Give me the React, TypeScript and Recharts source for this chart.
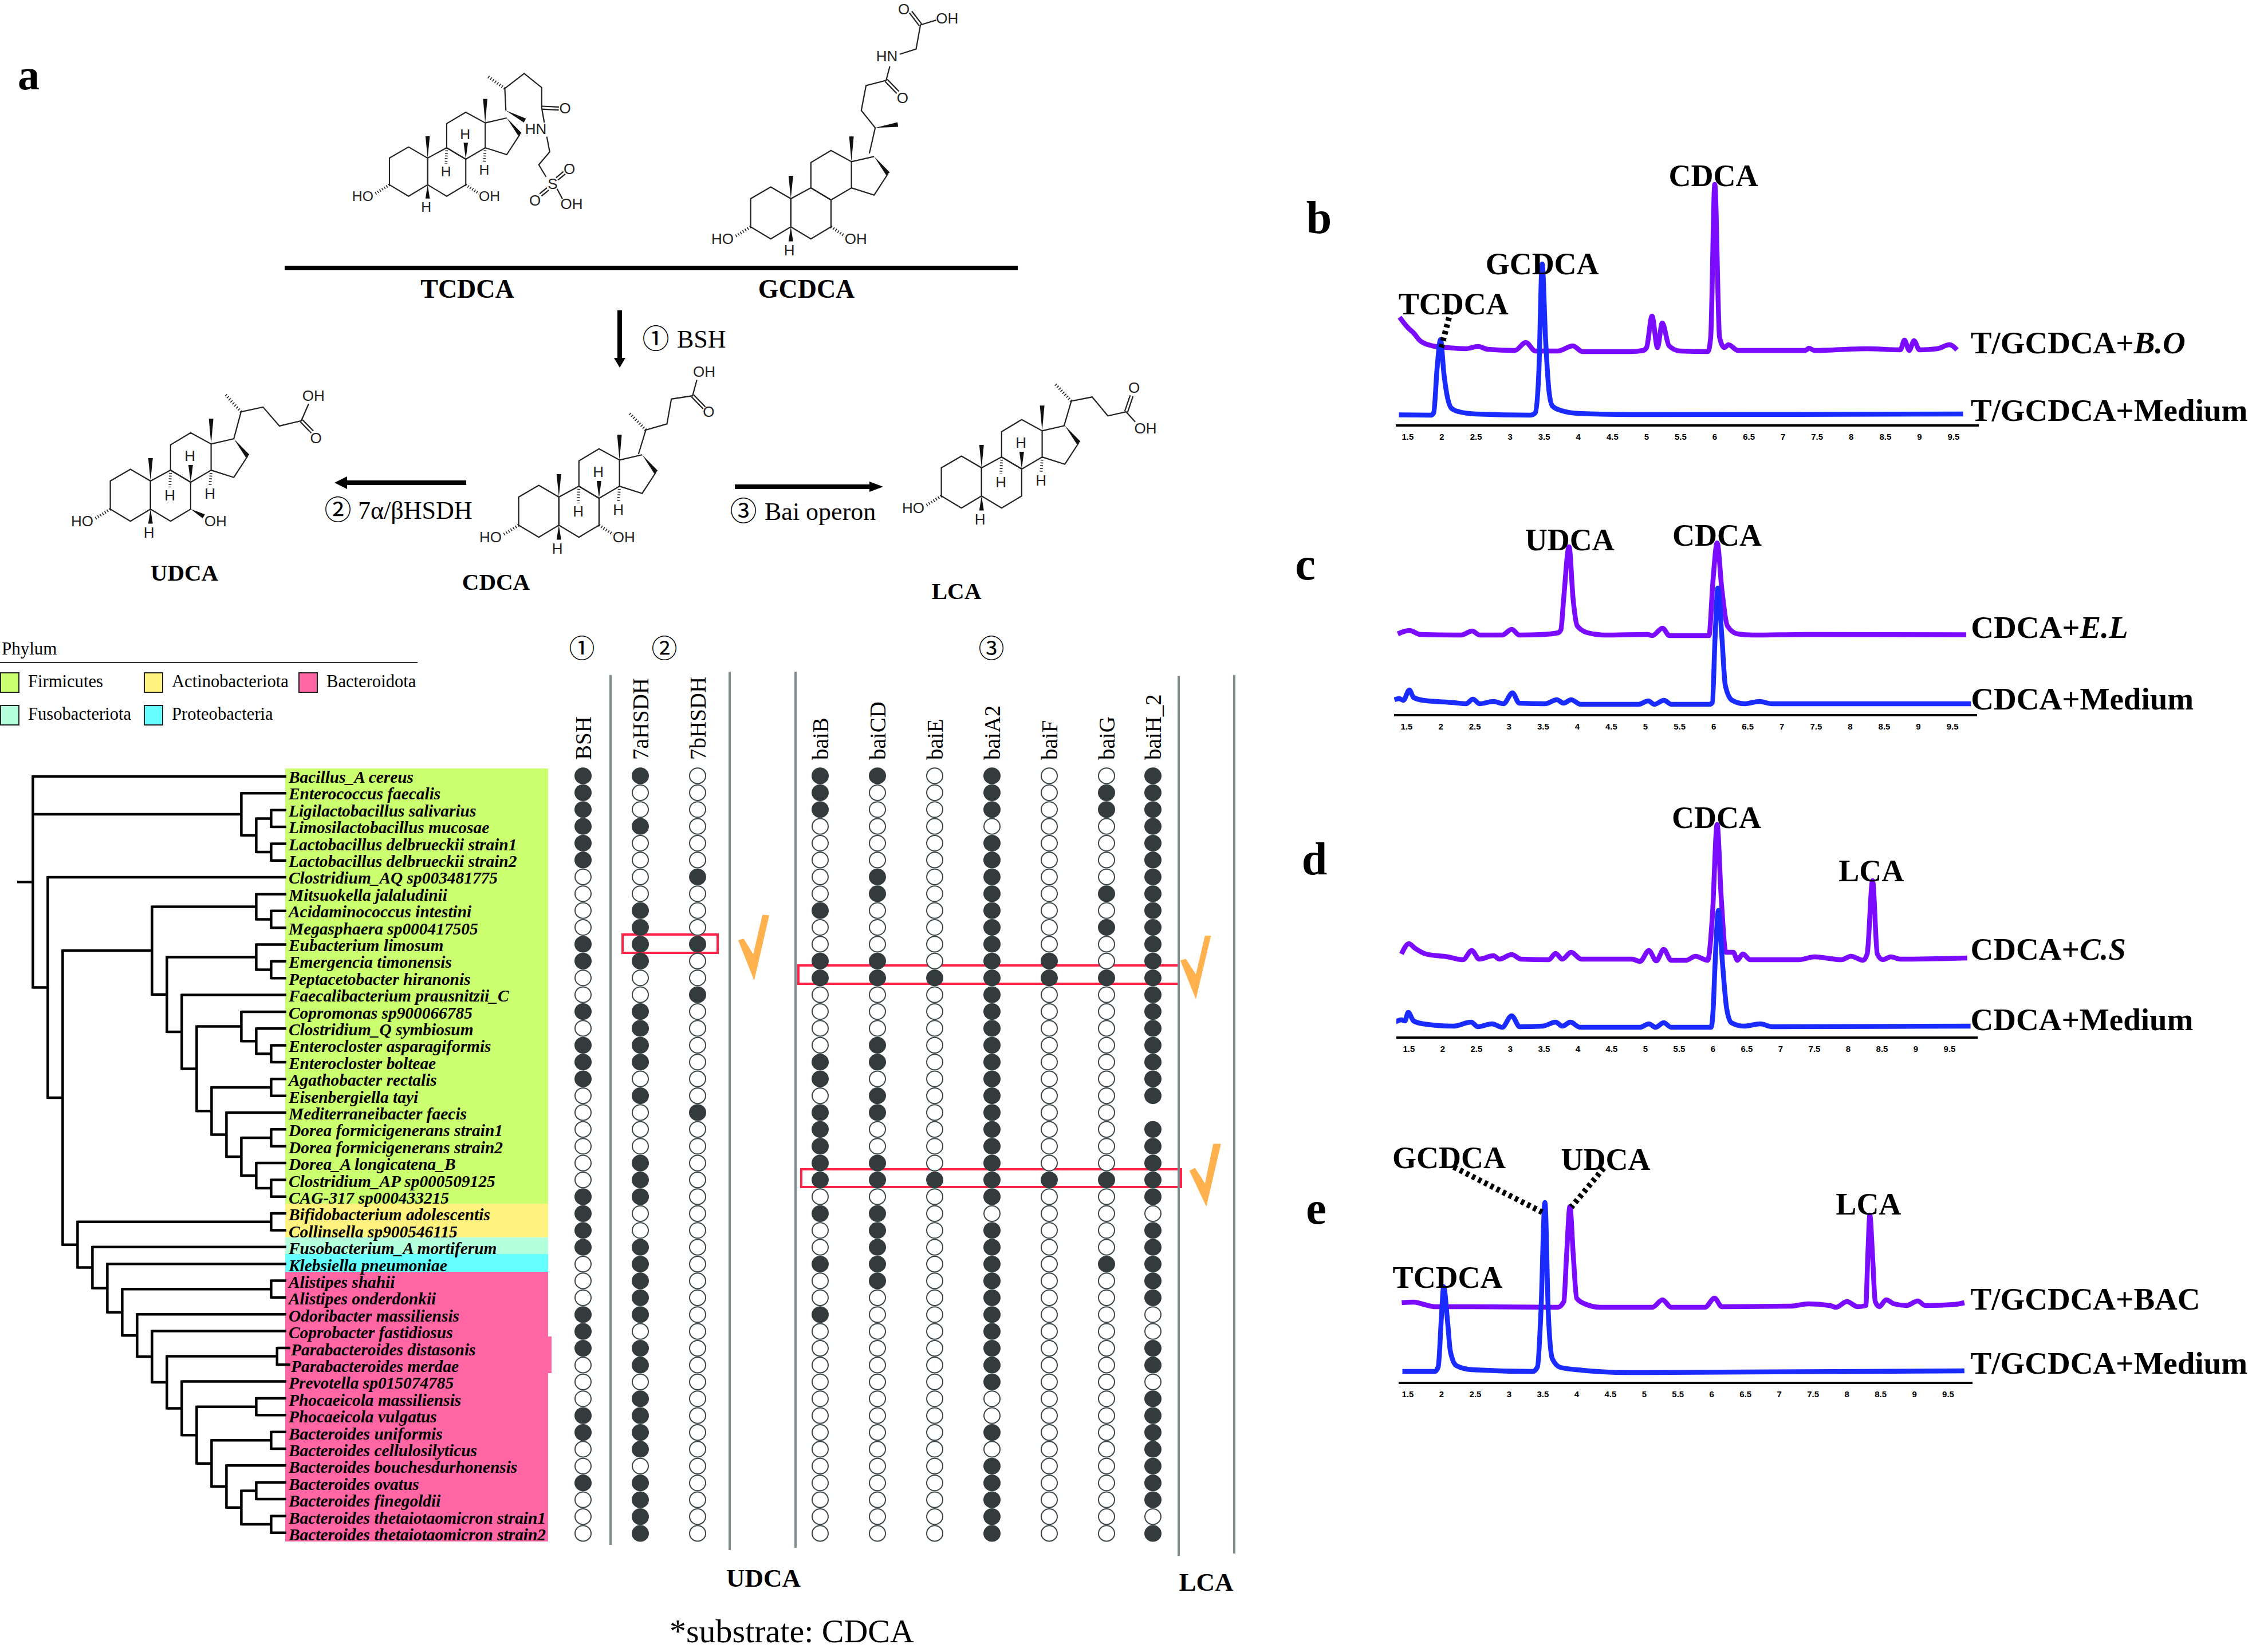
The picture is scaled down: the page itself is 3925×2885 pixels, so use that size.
import {
  LineChart,
  Line,
  XAxis,
  YAxis,
  ScatterChart,
  Scatter,
  ReferenceArea,
  ReferenceDot,
  ReferenceLine,
} from "recharts";

const SERIF = '"Liberation Serif", "Noto Sans CJK JP", serif';
const SANS = '"Liberation Sans", sans-serif';
const PURPLE = "#7a0bff";
const BLUE = "#1a2bff";

// ---------- chromatograms: [retention time, signal] ----------
const timeTicks = [1.5, 2, 2.5, 3, 3.5, 4, 4.5, 5, 5.5, 6, 6.5, 7, 7.5, 8, 8.5, 9, 9.5];

const bPurple = [
  [1.38, 189], [1.5, 171], [1.59, 161], [1.68, 148], [1.86, 139], [2.08, 136], [2.35, 134], [2.53, 138], [2.67, 133],
  [3.07, 131], [3.23, 145], [3.37, 130], [3.7, 130], [3.92, 139], [4.06, 129], [4.77, 129], [4.95, 131], [5.0, 136],
  [5.08, 191], [5.16, 136], [5.23, 179], [5.33, 139], [5.49, 130], [5.9, 129], [5.94, 154], [6.0, 421], [6.07, 154],
  [6.14, 136], [6.2, 141], [6.34, 131], [7.33, 131], [7.38, 135], [7.46, 131], [8.23, 134], [8.72, 132], [8.78, 149],
  [8.85, 131], [8.92, 148], [9.0, 132], [9.26, 134], [9.44, 141], [9.55, 132],
];
const bBlue = [
  [1.37, 18.5], [1.84, 18], [1.88, 22], [1.93, 100], [1.98, 150], [2.03, 90], [2.08, 50], [2.14, 30], [2.25, 24],
  [2.5, 20], [3.3, 18], [3.37, 22], [3.42, 90], [3.47, 282], [3.52, 150], [3.57, 60], [3.62, 34], [3.75, 26], [4.0, 21],
  [4.8, 19], [9.64, 20],
];
const cPurple = [
  [1.37, 142], [1.54, 148], [1.7, 141], [2.3, 140], [2.46, 147], [2.57, 140], [2.9, 140], [3.04, 150], [3.15, 140],
  [3.5, 141], [3.72, 144], [3.76, 149], [3.8, 202], [3.88, 294], [3.94, 202], [4.0, 156], [4.15, 144], [4.4, 140],
  [5.03, 141], [5.1, 139], [5.25, 152], [5.35, 139], [5.93, 139], [5.99, 236], [6.05, 301], [6.12, 219], [6.2, 156],
  [6.35, 142], [6.57, 140], [7.38, 141], [9.7, 140.5],
];
const cBlue = [
  [1.32, 27], [1.39, 29], [1.45, 26], [1.54, 44], [1.6, 31], [1.74, 26], [2.19, 22], [2.37, 20], [2.47, 28], [2.57, 20],
  [2.77, 24], [2.92, 20], [3.05, 39], [3.15, 21], [3.53, 20], [3.7, 27], [3.8, 21], [3.91, 27], [4.05, 19], [4.9, 19],
  [5.04, 25], [5.13, 19], [5.27, 26], [5.38, 19], [5.94, 19], [5.98, 22], [6.02, 136], [6.06, 222], [6.12, 136],
  [6.17, 52], [6.27, 26], [6.45, 20], [6.67, 24], [6.85, 20], [9.77, 20],
];
const dPurple = [
  [1.39, 146], [1.5, 164], [1.59, 156], [1.75, 146], [2.07, 141], [2.3, 136], [2.43, 152], [2.54, 137], [2.75, 143],
  [2.84, 137], [3.02, 145], [3.16, 137], [3.57, 136], [3.67, 147], [3.77, 137], [3.9, 149], [4.05, 137], [4.8, 137],
  [4.92, 133], [5.05, 152], [5.16, 134], [5.27, 154], [5.38, 135], [5.6, 135], [5.74, 142], [5.92, 135], [5.99, 212],
  [6.06, 372], [6.12, 246], [6.19, 149], [6.3, 149], [6.36, 135], [6.44, 146], [6.55, 136], [7.27, 136], [7.5, 141],
  [7.9, 136], [8.04, 142], [8.22, 135], [8.28, 146], [8.36, 274], [8.43, 146], [8.51, 136], [8.63, 141], [8.77, 137],
  [9.76, 139],
];
const dBlue = [
  [1.28, 26], [1.39, 31], [1.44, 29], [1.49, 44], [1.57, 29], [1.71, 24], [2.16, 20], [2.42, 27], [2.52, 19], [2.73, 24],
  [2.88, 18], [3.02, 38], [3.14, 19], [3.48, 20], [3.67, 27], [3.77, 20], [3.89, 27], [4.03, 18], [4.92, 18], [5.05, 24],
  [5.15, 18], [5.27, 26], [5.38, 18], [5.97, 18], [6.0, 46], [6.03, 129], [6.08, 222], [6.14, 129], [6.2, 52], [6.27, 26],
  [6.46, 20], [6.7, 24], [6.87, 19], [9.81, 20],
];
const ePurple = [
  [1.41, 140], [1.59, 141], [1.77, 136], [1.9, 133], [2.45, 133], [3.72, 132], [3.81, 142], [3.85, 222], [3.9, 308],
  [3.95, 222], [4.0, 148], [4.12, 138], [4.35, 132], [5.12, 132], [5.27, 145], [5.4, 132], [5.9, 132], [6.04, 148],
  [6.15, 133], [7.17, 134], [7.43, 138], [7.75, 135], [7.84, 132], [8.0, 142], [8.16, 133], [8.28, 135], [8.31, 222],
  [8.34, 293], [8.38, 222], [8.42, 142], [8.48, 133], [8.58, 145], [8.7, 138], [8.88, 135], [9.05, 143], [9.16, 135],
  [9.6, 137], [9.74, 140],
];
const eBlue = [
  [1.42, 20], [1.9, 20], [1.95, 28], [2.0, 120], [2.03, 168], [2.09, 105], [2.13, 55], [2.22, 30], [2.45, 23], [3.35, 20],
  [3.42, 28], [3.47, 122], [3.53, 315], [3.58, 122], [3.64, 42], [3.76, 27], [4.08, 22], [4.8, 18], [9.74, 21],
];

// ---------- tree / matrix ----------
const speciesNames = [
  "Bacillus_A cereus", "Enterococcus faecalis", "Ligilactobacillus salivarius", "Limosilactobacillus mucosae",
  "Lactobacillus delbrueckii strain1", "Lactobacillus delbrueckii strain2", "Clostridium_AQ sp003481775",
  "Mitsuokella jalaludinii", "Acidaminococcus intestini", "Megasphaera sp000417505", "Eubacterium limosum",
  "Emergencia timonensis", "Peptacetobacter hiranonis", "Faecalibacterium prausnitzii_C", "Copromonas sp900066785",
  "Clostridium_Q symbiosum", "Enterocloster asparagiformis", "Enterocloster bolteae", "Agathobacter rectalis",
  "Eisenbergiella tayi", "Mediterraneibacter faecis", "Dorea formicigenerans strain1", "Dorea formicigenerans strain2",
  "Dorea_A longicatena_B", "Clostridium_AP sp000509125", "CAG-317 sp000433215", "Bifidobacterium adolescentis",
  "Collinsella sp900546115", "Fusobacterium_A mortiferum", "Klebsiella pneumoniae", "Alistipes shahii",
  "Alistipes onderdonkii", "Odoribacter massiliensis", "Coprobacter fastidiosus", "Parabacteroides distasonis",
  "Parabacteroides merdae", "Prevotella sp015074785", "Phocaeicola massiliensis", "Phocaeicola vulgatus",
  "Bacteroides uniformis", "Bacteroides cellulosilyticus", "Bacteroides bouchesdurhonensis", "Bacteroides ovatus",
  "Bacteroides finegoldii", "Bacteroides thetaiotaomicron strain1", "Bacteroides thetaiotaomicron strain2",
];
const rowTicks = speciesNames.map((_, i) => i + 1);

const geneNames = ["BSH", "7aHSDH", "7bHSDH", "baiB", "baiCD", "baiE", "baiA2", "baiF", "baiG", "baiH_2"];
const geneSlots = [0, 1, 2, 4.14, 5.14, 6.14, 7.14, 8.14, 9.14, 9.95];
// 1 gene found, 0 not found, - no mark
const genePresence = [
  "111111 0000 11 00 1 0 111 000000 1111 000 111 000 11 00 1 000",
  "1 00 1 0000 1111 00 1111 0 1 000 111 00 11111 0 11 0 1111 0 1111",
  "000000 1 000 1 00 1 000000 1 0000000000000000000000000",
  "111 00000 1 00 11 0000 11 0 11111 0 1 00 1 00 1 0000000000000",
  "1 00000 11 000 11 000 11 0 11 00 11 0 11111 000000000000000",
  "000000000000 1 00000000000 1 000000000000000000000",
  "111 0 1111111111111111111111 0 1111111111 00 1 0 11111",
  "00000000000 11 00000000000 1 000000000000000000000",
  "0 11 0000 1 0 1 00 1 00000000000 1 0000 1 0000000000000000",
  "11111111111111111111 - 11111 0 11111 00 11 0 11 11111 0 1",
].map((s) => s.replace(/ /g, ""));

const presentPoints = genePresence.flatMap((g, c) =>
  g.split("").flatMap((v, r) => (v === "1" ? [{ col: geneSlots[c], row: r + 1 }] : []))
);
const absentPoints = genePresence.flatMap((g, c) =>
  g.split("").flatMap((v, r) => (v === "0" ? [{ col: geneSlots[c], row: r + 1 }] : []))
);

// [level, ...children], a bare number is a species row
const tree: any = [0,
  1,
  [14, 2, [15, [16, 3, 4], [16, 5, 6]]],
  [1,
    7,
    [2,
      [8,
        [15, 8, [16, 9, 10]],
        [9,
          [15, 11, [16, 12, 13]],
          [10,
            14,
            [11,
              [14, 15, [15, 16, [16, 17, 18]]],
              [12,
                [16, 19, 20],
                [13, 21, [14, [16, 22, 23], [15, 24, [16, 25, 26]]]],
              ],
            ],
          ],
        ],
      ],
      [3,
        [16, 27, 28],
        [4, 29,
          [5, 30,
            [6, [16, 31, 32],
              [7, 33,
                [8, 34,
                  [9, [16.4, 35, 36],
                    [10, 37,
                      [11, [15, 38, 39],
                        [12, [16, 40, 41],
                          [13, 42, [14, [15, 43, 44], [16, 45, 46]]],
                        ],
                      ],
                    ],
                  ],
                ],
              ],
            ],
          ],
        ],
      ],
    ],
  ],
];

const rowY = (r: number) => 1356 + (r - 1) * 29.35;
const levelX = (l: number) => 57.4 + 26 * l;

function treePath(node: any, out: string[]): number {
  const kids = node.slice(1);
  const x = levelX(node[0]);
  const ys = kids.map((k: any) => {
    if (typeof k === "number") {
      const y = rowY(k);
      out.push(`M${x} ${y}H${k === 35 || k === 36 ? 507 : 500}`);
      return y;
    }
    const y = treePath(k, out);
    out.push(`M${x} ${y}H${levelX(k[0])}`);
    return y;
  });
  out.push(`M${x} ${ys[0] - 2}V${ys[ys.length - 1] + 2}`);
  return (ys[0] + ys[ys.length - 1]) / 2;
}
const treeSegments: string[] = [];
const treeRootY = treePath(tree, treeSegments);

// ---------- panel text helper ----------
const PeakText = ({ x, y, text }: { x: number; y: number; text: string }) => (
  <ReferenceDot
    x={x}
    y={y}
    r={0}
    ifOverflow="visible"
    shape={(p: any) => (
      <text x={p.cx} y={p.cy} textAnchor="middle" dominantBaseline="central" fontFamily={SERIF} fontWeight="bold" fontSize={54} fill="#000">
        {text}
      </text>
    )}
  />
);
const TraceText = ({ x, y, text, italic }: { x: number; y: number; text: string; italic?: string }) => (
  <ReferenceDot
    x={x}
    y={y}
    r={0}
    ifOverflow="visible"
    shape={(p: any) => (
      <text x={p.cx} y={p.cy} dominantBaseline="central" fontFamily={SERIF} fontWeight="bold" fontSize={55} fill="#000">
        {text}
        {italic && <tspan fontStyle="italic">{italic}</tspan>}
      </text>
    )}
  />
);

const pts = (a: number[][]) => a.map(([t, v]) => ({ t, v }));

function Panel({ axisLeft, axisRight, axisY, plotH, domain, top, bottom, children }: any) {
  const left = axisLeft - 120;
  return (
    <div style={{ position: "absolute", left, top: axisY - plotH }}>
      <LineChart width={3925 - left} height={plotH + 50} margin={{ top: 0, bottom: 0, left: 120, right: 3925 - axisRight }}>
        <XAxis
          dataKey="t"
          type="number"
          domain={domain}
          ticks={timeTicks}
          interval={0}
          height={50}
          allowDataOverflow
          tickLine={false}
          tickMargin={8}
          axisLine={{ stroke: "#000", strokeWidth: 4 }}
          tick={{ fontFamily: SANS, fontWeight: "bold", fontSize: 15, fill: "#000" }}
        />
        <YAxis hide type="number" domain={[0, plotH]} allowDataOverflow />
        <Line data={pts(top)} dataKey="v" type="monotone" stroke={PURPLE} strokeWidth={8.5} dot={false} isAnimationActive={false} />
        <Line data={pts(bottom)} dataKey="v" type="monotone" stroke={BLUE} strokeWidth={8.5} dot={false} isAnimationActive={false} />
        {children}
      </LineChart>
    </div>
  );
}

const Dash = ({ from, to }: { from: number[]; to: number[] }) => (
  <ReferenceLine
    segment={[{ x: from[0], y: from[1] }, { x: to[0], y: to[1] }]}
    ifOverflow="visible"
    stroke="#000"
    strokeWidth={10}
    strokeDasharray="6 6"
  />
);

// ---------- structures, coordinates taken from the UDCA drawing ----------
const p9 = (x: number, y: number) => [x / 1.568, y / 1.425];
const p10 = (x: number, y: number) => [1000 + x / 1.568, y / 1.425];
const line = (pts: number[][]) => pts.map(([x, y]) => `${x.toFixed(1)},${y.toFixed(1)}`).join(" ");

const Bond = ({ pts, close }: { pts: number[][]; close?: boolean }) =>
  close ? (
    <polygon points={line(pts)} fill="none" stroke="#222" strokeWidth={2.2} />
  ) : (
    <polyline points={line(pts)} fill="none" stroke="#222" strokeWidth={2.2} />
  );
const DoubleBond = ({ a, b }: { a: number[]; b: number[] }) => {
  const n = Math.hypot(b[0] - a[0], b[1] - a[1]);
  const ox = (-(b[1] - a[1]) / n) * 2.6;
  const oy = ((b[0] - a[0]) / n) * 2.6;
  return (
    <g>
      <Bond pts={[[a[0] + ox, a[1] + oy], [b[0] + ox, b[1] + oy]]} />
      <Bond pts={[[a[0] - ox, a[1] - oy], [b[0] - ox, b[1] - oy]]} />
    </g>
  );
};
const Wedge = ({ a, b }: { a: number[]; b: number[] }) => {
  const dx = b[0] - a[0];
  const dy = b[1] - a[1];
  const n = Math.hypot(dx, dy);
  const ox = (-dy / n) * 4;
  const oy = (dx / n) * 4;
  return <polygon points={line([a, [b[0] + ox, b[1] + oy], [b[0] - ox, b[1] - oy]])} fill="#111" />;
};
const Hash = ({ a, b }: { a: number[]; b: number[] }) => (
  <line x1={a[0]} y1={a[1]} x2={b[0]} y2={b[1]} stroke="#222" strokeWidth={5} strokeDasharray="1.6 3.2" />
);
const Atom = ({ at, t }: { at: number[]; t: string }) => (
  <text x={at[0]} y={at[1]} textAnchor="middle" dominantBaseline="central" fontFamily={SANS} fontSize={26} fill="#222">
    {t}
  </text>
);

function Steroid({ tx, ty, s = 1, hydrogens = true, seven = "hash" }: any) {
  const q = (l: number[][]) => l.map(([x, y]) => p9(x, y));
  return (
    <g transform={`translate(${tx} ${ty}) scale(${s})`}>
      <Bond close pts={q([[302, 1197], [357, 1168], [412, 1197], [412, 1267], [357, 1297], [302, 1267]])} />
      <Bond close pts={q([[412, 1197], [467, 1170], [522, 1200], [522, 1267], [467, 1297], [412, 1267]])} />
      <Bond close pts={q([[467, 1170], [467, 1107], [522, 1077], [578, 1105], [578, 1170], [522, 1200]])} />
      <Bond pts={q([[578, 1105], [640, 1092]])} />
      <Bond pts={q([[678, 1135], [640, 1188], [578, 1170]])} />
      <Wedge a={p9(640, 1092)} b={p9(678, 1135)} />
      <Wedge a={p9(412, 1197)} b={p9(412, 1140)} />
      <Wedge a={p9(578, 1105)} b={p9(578, 1042)} />
      <Wedge a={p9(412, 1267)} b={p9(412, 1303)} />
      <Hash a={p9(302, 1267)} b={p9(258, 1292)} />
      <Atom at={p9(225, 1297)} t="HO" />
      <Atom at={p9(408, 1325)} t="H" />
      {seven === "hash" && <Hash a={p9(522, 1267)} b={p9(560, 1290)} />}
      {seven === "wedge" && <Wedge a={p9(522, 1267)} b={p9(558, 1285)} />}
      {seven !== "none" && <Atom at={p9(590, 1297)} t="OH" />}
      {hydrogens && (
        <g>
          <Hash a={p9(467, 1170)} b={p9(465, 1212)} />
          <Hash a={p9(578, 1170)} b={p9(575, 1210)} />
          <Wedge a={p9(522, 1200)} b={p9(522, 1157)} />
          <Atom at={p9(465, 1232)} t="H" />
          <Atom at={p9(520, 1135)} t="H" />
          <Atom at={p9(575, 1228)} t="H" />
        </g>
      )}
    </g>
  );
}

const Label = ({ x, y, size, t, bold, anchor = "middle", font = SERIF }: any) => (
  <text x={x} y={y} textAnchor={anchor} dominantBaseline="central" fontFamily={font} fontSize={size} fontWeight={bold ? "bold" : "normal"} fill="#000">
    {t}
  </text>
);

const legendRows = [
  { name: "Firmicutes", color: "#ccff70", x: 1, y: 1175 },
  { name: "Actinobacteriota", color: "#fff27f", x: 252, y: 1175 },
  { name: "Bacteroidota", color: "#ff66a3", x: 522, y: 1175 },
  { name: "Fusobacteriota", color: "#b4ffdc", x: 1, y: 1232 },
  { name: "Proteobacteria", color: "#66ffff", x: 252, y: 1232 },
];

const z7 = (x: number, y: number) => [950 + x / 1.254, 1100 + y / 1.845];
const z8 = (x: number, y: number) => [950 + x / 1.254, 1900 + y / 1.592];
const checks = [
  [z7(425, 1000), z7(437, 995), z7(458, 1045), z7(478, 918), z7(493, 920), z7(460, 1130)],
  [z7(1393, 1065), z7(1405, 1060), z7(1427, 1110), z7(1447, 985), z7(1460, 985), z7(1427, 1190)],
  [z8(1413, 230), z8(1425, 222), z8(1447, 265), z8(1465, 155), z8(1482, 155), z8(1450, 330)],
];

const bands = [
  { y1: 0.56, y2: 26.41, x2: -0.61, color: "#ccff70" },
  { y1: 26.41, y2: 28.41, x2: -0.61, color: "#fff27f" },
  { y1: 28.41, y2: 29.4, x2: -0.61, color: "#b4ffdc" },
  { y1: 29.4, y2: 30.46, x2: -0.61, color: "#66ffff" },
  { y1: 30.46, y2: 46.48, x2: -0.61, color: "#ff66a3" },
  { y1: 34.3, y2: 36.48, x2: -0.55, color: "#ff66a3" },
];
const dividers = [
  { x: 0.48, y1: -4.99, y2: 46.68 },
  { x: 2.56, y1: -5.19, y2: 46.99 },
  { x: 3.71, y1: -5.19, y2: 46.85 },
  { x: 10.4, y1: -4.92, y2: 47.33 },
  { x: 11.37, y1: -4.99, y2: 47.19 },
];
const redBoxes = [
  { x1: 0.69, x2: 2.35, y1: 10.42, y2: 11.51 },
  { x1: 3.76, x2: 10.4, y1: 12.26, y2: 13.35 },
  { x1: 3.81, x2: 10.44, y1: 24.37, y2: 25.42 },
];

export default function App() {
  return (
    <div style={{ position: "absolute", left: 0, top: 0, width: 3925, height: 2885, background: "#fff", overflow: "hidden" }}>
      {/* gene matrix */}
      <div style={{ position: "absolute", left: 498, top: 1165 }}>
        <ScatterChart width={1662} height={1560} margin={{ top: 0, left: 0, right: 0, bottom: 0 }}>
          {bands.map((b, i) => (
            <ReferenceArea key={i} x1={-5.2} x2={b.x2} y1={b.y1} y2={b.y2} fill={b.color} fillOpacity={1} stroke="none" ifOverflow="visible" />
          ))}
          <XAxis
            dataKey="col"
            type="number"
            orientation="top"
            mirror
            domain={[-5.2, 11.42]}
            ticks={geneSlots}
            interval={0}
            axisLine={false}
            tickLine={false}
            allowDataOverflow
            tick={(p: any) => (
              <text transform={`translate(${p.x} 162) rotate(-90)`} dominantBaseline="central" fontFamily={SERIF} fontSize={39} fill="#000">
                {geneNames[geneSlots.indexOf(p.payload.value)]}
              </text>
            )}
          />
          <YAxis
            dataKey="row"
            type="number"
            mirror
            reversed
            domain={[-5.46, 47.6]}
            ticks={rowTicks}
            interval={0}
            axisLine={false}
            tickLine={false}
            allowDataOverflow
            tick={(p: any) => (
              <text x={p.payload.value === 35 || p.payload.value === 36 ? 10 : 6} y={p.y + 2} dominantBaseline="central" fontFamily={SERIF} fontStyle="italic" fontWeight="bold" fontSize={29.4} fill="#000">
                {speciesNames[p.payload.value - 1]}
              </text>
            )}
          />
          {dividers.map((d, i) => (
            <ReferenceLine key={i} segment={[{ x: d.x, y: d.y1 }, { x: d.x, y: d.y2 }]} stroke="#7f8c8d" strokeWidth={4} ifOverflow="visible" />
          ))}
          <Scatter
            data={absentPoints}
            isAnimationActive={false}
            shape={(p: any) => <ellipse cx={p.cx} cy={p.cy} rx={14} ry={13.6} fill="#fff" stroke="#3c4648" strokeWidth={2} />}
          />
          <Scatter
            data={presentPoints}
            isAnimationActive={false}
            shape={(p: any) => <ellipse cx={p.cx} cy={p.cy} rx={15} ry={14.6} fill="#343b3d" />}
          />
          {redBoxes.map((b, i) => (
            <ReferenceArea key={i} x1={b.x1} x2={b.x2} y1={b.y1} y2={b.y2} fill="none" stroke="#ff2347" strokeWidth={4} ifOverflow="visible" />
          ))}
        </ScatterChart>
      </div>

      <Panel axisLeft={2437} axisRight={3455} axisY={743} plotH={500} domain={[1.324, 9.87]} top={bPurple} bottom={bBlue}>
        <PeakText x={5.98} y={436} text="CDCA" />
        <PeakText x={3.47} y={282} text="GCDCA" />
        <PeakText x={2.17} y={212} text="TCDCA" />
        <Dash from={[2.13, 200]} to={[1.99, 136]} />
        <TraceText x={9.75} y={145} text="T/GCDCA+" italic="B.O" />
        <TraceText x={9.75} y={27} text="T/GCDCA+Medium" />
      </Panel>
      <Panel axisLeft={2434} axisRight={3452} axisY={1249} plotH={380} domain={[1.315, 9.86]} top={cPurple} bottom={cBlue}>
        <PeakText x={3.89} y={306} text="UDCA" />
        <PeakText x={6.05} y={314} text="CDCA" />
        <TraceText x={9.77} y={154} text="CDCA+" italic="E.L" />
        <TraceText x={9.77} y={29} text="CDCA+Medium" />
      </Panel>
      <Panel axisLeft={2438} axisRight={3453} axisY={1812} plotH={420} domain={[1.314, 9.915]} top={dPurple} bottom={dBlue}>
        <PeakText x={6.05} y={384} text="CDCA" />
        <PeakText x={8.34} y={291} text="LCA" />
        <TraceText x={9.81} y={155} text="CDCA+" italic="C.S" />
        <TraceText x={9.81} y={32} text="CDCA+Medium" />
      </Panel>
      <Panel axisLeft={2442} axisRight={3444} axisY={2415} plotH={430} domain={[1.364, 9.86]} top={ePurple} bottom={eBlue}>
        <Dash from={[2.18, 377]} to={[3.49, 298]} />
        <Dash from={[4.4, 375]} to={[3.92, 307]} />
        <PeakText x={2.11} y={393} text="GCDCA" />
        <PeakText x={4.43} y={390} text="UDCA" />
        <PeakText x={8.32} y={312} text="LCA" />
        <PeakText x={2.09} y={184} text="TCDCA" />
        <TraceText x={9.83} y={147} text="T/GCDCA+BAC" />
        <TraceText x={9.83} y={35} text="T/GCDCA+Medium" />
      </Panel>

      {/* pathway, tree, legend and notes */}
      <svg width={3925} height={2885} style={{ position: "absolute", left: 0, top: 0, pointerEvents: "none" }}>
        <Label x={50} y={130} size={76} t="a" bold />
        <Label x={2303} y={380} size={80} t="b" bold />
        <Label x={2279} y={985} size={80} t="c" bold />
        <Label x={2295} y={1500} size={80} t="d" bold />
        <Label x={2298} y={2110} size={80} t="e" bold />

        <rect x={497} y={464} width={1280} height={8} fill="#000" />
        <Label x={816} y={504} size={46} t="TCDCA" bold />
        <Label x={1408} y={504} size={46} t="GCDCA" bold />
        <Label x={322} y={1000} size={41} t="UDCA" bold />
        <Label x={866} y={1016} size={41} t="CDCA" bold />
        <Label x={1670} y={1032} size={41} t="LCA" bold />

        <path d="M1082 542V628" stroke="#000" strokeWidth={8} />
        <polygon points="1082,642 1072,625 1092,625" fill="#000" />
        <path d="M814 843H600" stroke="#000" strokeWidth={8} />
        <polygon points="584,843 606,832 606,854" fill="#000" />
        <path d="M1283 850H1525" stroke="#000" strokeWidth={8} />
        <polygon points="1542,850 1518,841 1518,859" fill="#000" />

        <Label x={1145} y={592} size={47} t="①" />
        <Label x={1182} y={592} size={44} t="BSH" anchor="start" />
        <Label x={590} y={891} size={47} t="②" />
        <Label x={625} y={891} size={44} t="7α/βHSDH" anchor="start" />
        <Label x={1298} y={893} size={47} t="③" />
        <Label x={1335} y={893} size={44} t="Bai operon" anchor="start" />

        {/* UDCA */}
        <Steroid tx={0} ty={0} seven="wedge" />
        <Bond pts={[p9(640, 1092), p9(660, 1025), p9(720, 1013), p9(765, 1060), p9(825, 1047), p9(845, 1005)]} />
        <DoubleBond a={p9(825, 1047)} b={p9(855, 1075)} />
        <Hash a={p9(660, 1025)} b={p9(615, 980)} />
        <Atom at={p9(858, 985)} t="OH" />
        <Atom at={p9(865, 1090)} t="O" />

        {/* CDCA */}
        <Steroid tx={713} ty={28} />
        <Bond pts={[p10(180, 1130), p10(200, 1070), p10(258, 1055), p10(270, 993), p10(328, 985), p10(340, 945)]} />
        <DoubleBond a={p10(328, 985)} b={p10(360, 1015)} />
        <Hash a={p10(200, 1070)} b={p10(155, 1028)} />
        <Atom at={p10(360, 925)} t="OH" />
        <Atom at={p10(372, 1025)} t="O" />

        {/* LCA */}
        <Steroid tx={1451} ty={-23} seven="none" />
        <Bond pts={[p10(1345, 1060), p10(1365, 998), p10(1422, 988), p10(1465, 1035), p10(1515, 1025), p10(1540, 1050)]} />
        <DoubleBond a={p10(1515, 1025)} b={p10(1530, 985)} />
        <Hash a={p10(1365, 998)} b={p10(1320, 955)} />
        <Atom at={[1980, 677]} t="O" />
        <Atom at={[2000, 748]} t="OH" />

        {/* GCDCA */}
        <Steroid tx={1118} ty={-493} hydrogens={false} />
        <Bond pts={[p10(812, 382), p10(828, 318), p10(790, 275), p10(803, 213), p10(858, 200), p10(868, 165)]} />
        <DoubleBond a={p10(858, 200)} b={p10(890, 230)} />
        <Bond pts={[p10(895, 135), p10(940, 122), p10(952, 62), p10(995, 50)]} />
        <DoubleBond a={p10(952, 62)} b={p10(925, 30)} />
        <Wedge a={p10(828, 318)} b={p10(890, 310)} />
        <Atom at={p10(860, 140)} t="HN" />
        <Atom at={p10(903, 243)} t="O" />
        <Atom at={[1578, 16]} t="O" />
        <Atom at={p10(1025, 45)} t="OH" />

        {/* TCDCA */}
        <Steroid tx={497} ty={-522} s={0.95} />
        <Bond pts={[p9(1385, 275), p9(1382, 220), p9(1435, 183), p9(1483, 218), p9(1483, 268), p9(1490, 305)]} />
        <DoubleBond a={p9(1483, 268)} b={p9(1530, 270)} />
        <Bond pts={[p9(1497, 340), p9(1505, 378), p9(1475, 410), p9(1495, 440)]} />
        <DoubleBond a={p9(1525, 445)} b={p9(1545, 430)} />
        <DoubleBond a={p9(1500, 470)} b={p9(1480, 485)} />
        <Bond pts={[p9(1525, 470), p9(1540, 495)]} />
        <Wedge a={p9(1385, 275)} b={p9(1437, 300)} />
        <Hash a={p9(1382, 220)} b={p9(1335, 190)} />
        <Atom at={p9(1467, 320)} t="HN" />
        <Atom at={p9(1547, 270)} t="O" />
        <Atom at={p9(1513, 457)} t="S" />
        <Atom at={[994, 295]} t="O" />
        <Atom at={[934, 350]} t="O" />
        <Atom at={[998, 356]} t="OH" />

        {/* legend */}
        <Label x={3} y={1132} size={31} t="Phylum" anchor="start" />
        <path d="M0 1157H729" stroke="#333" strokeWidth={2} />
        {legendRows.map((l) => (
          <g key={l.name}>
            <rect x={l.x} y={l.y} width={32} height={34} fill={l.color} stroke="#222" strokeWidth={2} />
            <Label x={l.x + 48} y={l.y + 15} size={30.6} t={l.name} anchor="start" />
          </g>
        ))}

        {/* tree */}
        <path d={treeSegments.join("")} fill="none" stroke="#000" strokeWidth={4.5} />
        <path d={`M30 ${treeRootY}H57`} stroke="#000" strokeWidth={4.5} />

        <Label x={1016} y={1134} size={45} t="①" />
        <Label x={1160} y={1134} size={45} t="②" />
        <Label x={1731} y={1134} size={45} t="③" />
        {checks.map((c, i) => (
          <polygon key={i} points={line(c)} fill="#ffb14e" />
        ))}
        <Label x={1333} y={2756} size={45} t="UDCA" bold />
        <Label x={2106} y={2763} size={45} t="LCA" bold />
        <Label x={1169} y={2848} size={58} t="*substrate: CDCA" anchor="start" />
      </svg>
    </div>
  );
}
